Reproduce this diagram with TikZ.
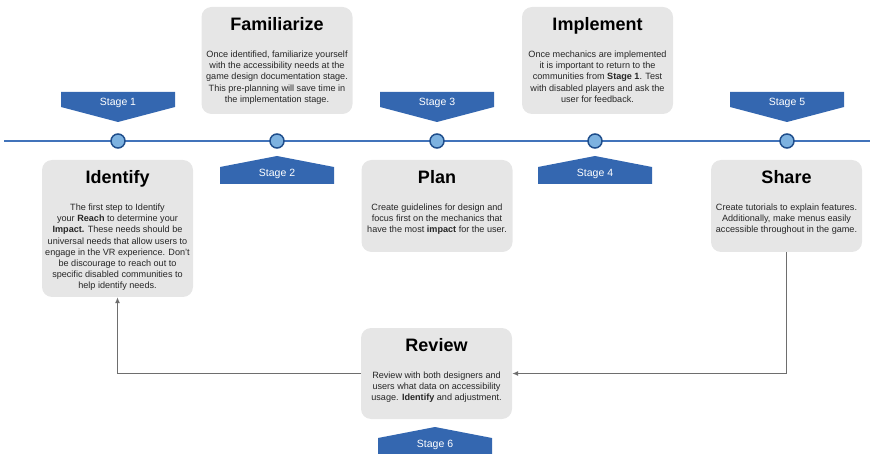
\documentclass[tikz,border=0pt]{standalone}
\usepackage{fontspec}
\setmainfont{Liberation Sans}
\usetikzlibrary{positioning,arrows.meta}
\definecolor{stageblue}{HTML}{3467B0}
\definecolor{lineblue}{HTML}{4173BA}
\definecolor{dotblue}{HTML}{7DB2E0}
\definecolor{dotrim}{HTML}{1F4E8C}
\definecolor{boxgray}{HTML}{E6E6E6}
\definecolor{arrgray}{HTML}{6E6E6E}
\definecolor{txtgray}{HTML}{262626}
\tikzset{
  card/.style={fill=boxgray, rounded corners=10pt, minimum width=151pt, inner sep=0pt},
  cardtitle/.style={font=\fontsize{18}{20}\selectfont\bfseries, inner sep=0pt},
  cardtext/.style={font=\fontsize{9.1}{11.2}\selectfont, text=txtgray, align=center, inner sep=0pt},
  stagelabel/.style={text=white, font=\fontsize{10.5}{12}\selectfont, inner sep=0pt},
  stagedot/.style={circle, draw=dotrim, fill=dotblue, line width=1.5pt, minimum size=14pt, inner sep=0pt},
  loopline/.style={arrgray, line width=1.3pt, -{Latex[length=6pt,width=5pt]}}
}
\begin{document}
\begin{tikzpicture}[x=1pt, y=-1pt]
\useasboundingbox (0,0) rectangle (870,454);
% timeline and stage markers
\draw[lineblue, line width=1.5pt] (4,141) -- (870,141);
\foreach \i/\x in {1/118,2/277,3/437,4/595,5/787}
  \node[stagedot] (d\i) at (\x,141) {};
% banners pointing down
\foreach \i/\x in {1/118,3/437,5/787} {
  \fill[stageblue] ({\x-57},92) -- ({\x+57},92) -- ({\x+57},107) -- (\x,122) -- ({\x-57},107) -- cycle;
  \node[stagelabel] (s\i) at (\x,103) {Stage \i};
}
% banners pointing up
\foreach \i/\x/\y in {2/277/156,4/595/156,6/435/427} {
  \fill[stageblue] (\x,\y) -- ({\x+57},{\y+11}) -- ({\x+57},{\y+28}) -- ({\x-57},{\y+28}) -- ({\x-57},{\y+11}) -- cycle;
  \node[stagelabel] (s\i) at (\x,{\y+18}) {Stage \i};
}
% cards
\node[card, minimum height=137pt] (identify) at (117.5,228.5) {};
\node[cardtitle, below=10pt of identify.north] (identifyT) {Identify};
\node[cardtext, below=44pt of identify.north] (identifyB) {The first step to Identify\\
  your \textbf{Reach} to determine your\\ \textbf{Impact.} These needs should be\\
  universal needs that allow users to\\ engage in the VR experience. Don't\\
  be discourage to reach out to\\ specific disabled communities to\\ help identify needs.};

\node[card, minimum height=107pt] (familiarize) at (277,60.5) {};
\node[cardtitle, below=10pt of familiarize.north] (familiarizeT) {Familiarize};
\node[cardtext, below=44pt of familiarize.north] (familiarizeB) {Once identified, familiarize yourself\\
  with the accessibility needs at the\\ game design documentation stage.\\
  This pre-planning will save time in\\ the implementation stage.};

\node[card, minimum height=92pt] (plan) at (437,206) {};
\node[cardtitle, below=10pt of plan.north] (planT) {Plan};
\node[cardtext, below=44pt of plan.north] (planB) {Create guidelines for design and\\
  focus first on the mechanics that\\ have the most \textbf{impact} for the user.};

\node[card, minimum height=107pt] (implement) at (597.5,60.5) {};
\node[cardtitle, below=10pt of implement.north] (implementT) {Implement};
\node[cardtext, below=44pt of implement.north] (implementB) {Once mechanics are implemented\\
  it is important to return to the\\ communities from \textbf{Stage 1}. Test\\
  with disabled players and ask the\\ user for feedback.};

\node[card, minimum height=92pt] (share) at (786.5,206) {};
\node[cardtitle, below=10pt of share.north] (shareT) {Share};
\node[cardtext, below=44pt of share.north] (shareB) {Create tutorials to explain features.\\
  Additionally, make menus easily\\ accessible throughout in the game.};

\node[card, minimum height=91pt] (review) at (436.5,373.5) {};
\node[cardtitle, below=10pt of review.north] (reviewT) {Review};
\node[cardtext, below=44pt of review.north] (reviewB) {Review with both designers and\\
  users what data on accessibility\\ usage. \textbf{Identify} and adjustment.};

% loop back
\draw[loopline] (share.south) |- (review.east);
\draw[loopline] (review.west) -| (identify.south);
\end{tikzpicture}
\end{document}
